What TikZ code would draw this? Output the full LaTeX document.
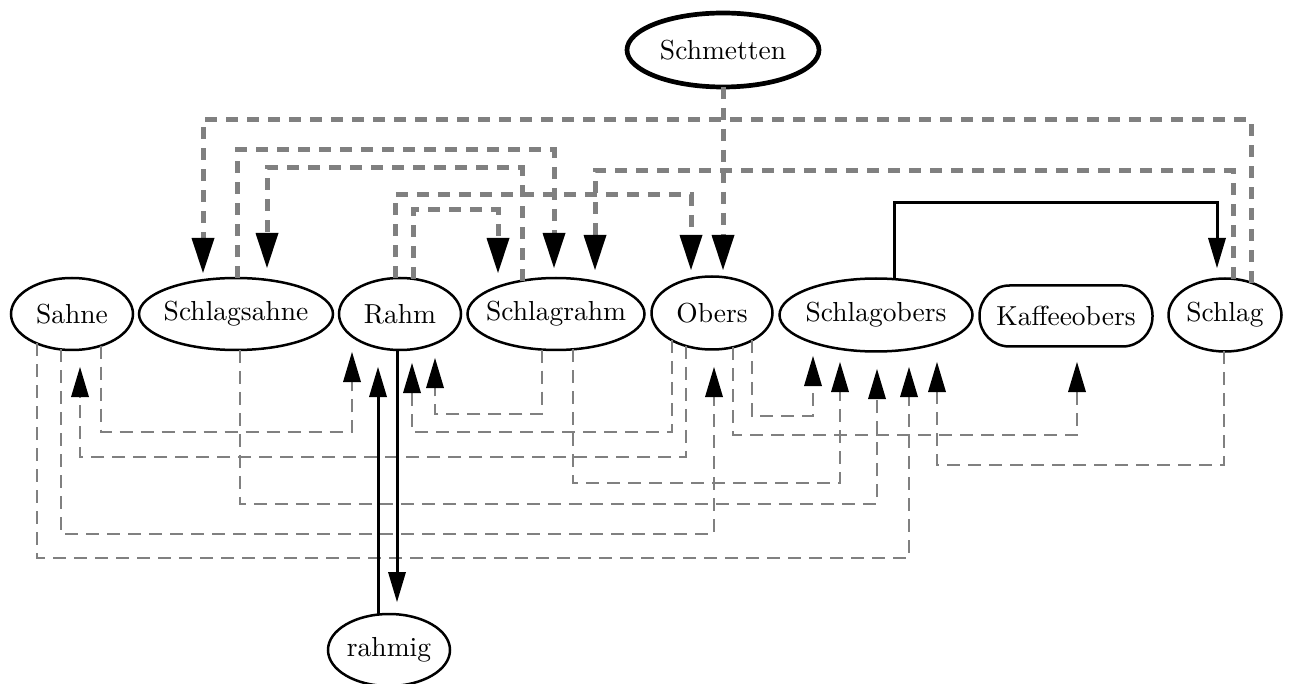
\documentclass[tikz,border=0pt]{standalone}
\usepackage{fontspec}
\newfontfamily\lmten{lmroman10-regular.otf}
\usetikzlibrary{shapes.geometric,arrows.meta,calc}
\definecolor{eg}{HTML}{808080}
% point on an ellipse border at horizontal offset #2 from the centre of node #1
% (#3 = +/- half height, #4 = half width)
\newcommand\eb[4]{($(#1.center)+(#2,{(#3)*sqrt(1-((#2)/(#4))^2)})$)}
\begin{document}
\begin{tikzpicture}[x=1pt,y=-1pt,
  every node/.style={font=\lmten\fontsize{27.5}{30}\selectfont, inner sep=0pt, outer sep=0pt},
  el/.style={ellipse, draw, line width=2.5pt, inner sep=-12pt},
  rr/.style={rectangle, rounded corners=30pt, draw, line width=2.5pt},
  thk/.style={draw=eg, line width=5pt, dash pattern=on 12pt off 9pt,
    -{Triangle[length=35pt,width=23pt,color=black,line width=0pt]}},
  thn/.style={draw=eg, line width=2.6pt, dash pattern=on 13pt off 8pt,
    -{Triangle[length=30pt,width=18pt,color=black,line width=0pt]}},
  sol/.style={draw=black, line width=3pt,
    -{Triangle[length=30pt,width=18pt,line width=0pt]}}]
\fill[white] (0,0) rectangle (1290,684);
\useasboundingbox (0,0) rectangle (1290,684);

% nodes
\node[el, line width=4.7pt, minimum width=192pt, minimum height=74pt] (Schmetten) at (723,50) {Schmetten};
\node[el, minimum width=122pt, minimum height=72pt] (Sahne) at (72,314) {Sahne};
\node[el, minimum width=194pt, minimum height=72pt] (Schlagsahne) at (236,314) {Schlagsahne};
\node[el, minimum width=122pt, minimum height=72pt] (Rahm) at (400,314) {Rahm};
\node[el, minimum width=177pt, minimum height=72pt] (Schlagrahm) at (556,314) {Schlagrahm};
\node[el, minimum width=121pt, minimum height=73pt] (Obers) at (712,313) {Obers};
\node[el, minimum width=193pt, minimum height=73pt] (Schlagobers) at (876,315) {Schlagobers};
\node[rr, minimum width=173pt, minimum height=61pt] (Kaffeeobers) at (1066,316) {Kaffeeobers};
\node[el, minimum width=113pt, minimum height=73pt] (Schlag) at (1225,315) {Schlag};
\node[el, minimum width=122pt, minimum height=72pt] (rahmig) at (389,650) {rahmig};

% upper (thick dashed) connectors
\draw[thk] \eb{Schlag}{26}{-36.5}{56.5} |- (203,120) -- ($(Schlagsahne.center)+(-33,-41)$);
\draw[thk] \eb{Schlagsahne}{1}{-36}{97} |- (554,150) -- ($(Schlagrahm.center)+(-2,-46)$);
\draw[thk] \eb{Schlagrahm}{-34}{-36}{88.5} |- (267,168) -- ($(Schlagsahne.center)+(31,-46)$);
\draw[thk] \eb{Rahm}{-5}{-36}{61} |- (691,195) -- ($(Obers.center)+(-21,-43)$);
\draw[thk] \eb{Schlag}{8}{-36.5}{56.5} |- (595,171) -- ($(Schlagrahm.center)+(39,-44)$);
\draw[thk] \eb{Rahm}{13}{-36}{61} |- (498,210) -- ($(Schlagrahm.center)+(-58,-41)$);
\draw[thk] (Schmetten.south) -- ($(Obers.center)+(11,-43)$);
\draw[sol] \eb{Schlagobers}{18}{-36.5}{96.5} |- (1217,203) -- ($(Schlag.center)+(-8,-47)$);

% lower (thin dashed) connectors
\draw[thn] \eb{Sahne}{-35}{36}{61} |- (909,558) -- ($(Schlagobers.center)+(33,52)$);
\draw[thn] \eb{Sahne}{-11}{36}{61} |- (714,534) -- ($(Obers.center)+(2,54)$);
\draw[thn] \eb{Sahne}{29}{36}{61} |- (352,432) -- ($(Rahm.center)+(-48,38)$);
\draw[thn] \eb{Obers}{-26}{36.5}{60.5} |- (80,457) -- ($(Sahne.center)+(8,53)$);
\draw[thn] \eb{Schlagsahne}{4}{36}{97} |- (877,504) -- ($(Schlagobers.center)+(1,54)$);
\draw[thn] \eb{Obers}{-40}{36.5}{60.5} |- (412,432) -- ($(Rahm.center)+(12,49)$);
\draw[thn] \eb{Schlagrahm}{-14}{36}{88.5} |- (435,414) -- ($(Rahm.center)+(35,44)$);
\draw[thn] \eb{Schlagrahm}{17}{36}{88.5} |- (840,483) -- ($(Schlagobers.center)+(-36,47)$);
\draw[thn] \eb{Obers}{21}{36.5}{60.5} |- (1077,435) -- ($(Kaffeeobers.center)+(11,46)$);
\draw[thn] \eb{Obers}{40}{36.5}{60.5} |- (813,416) -- ($(Schlagobers.center)+(-63,41)$);
\draw[thn] \eb{Schlag}{-1}{36.5}{56.5} |- (937,465) -- ($(Schlagobers.center)+(61,47)$);

% Rahm <-> rahmig
\draw[sol] \eb{rahmig}{-11}{-36}{61} -- ($(Rahm.center)+(-22,53)$);
\draw[sol] \eb{Rahm}{-3}{36}{61} -- ($(rahmig.center)+(8,-48)$);
\end{tikzpicture}
\end{document}
